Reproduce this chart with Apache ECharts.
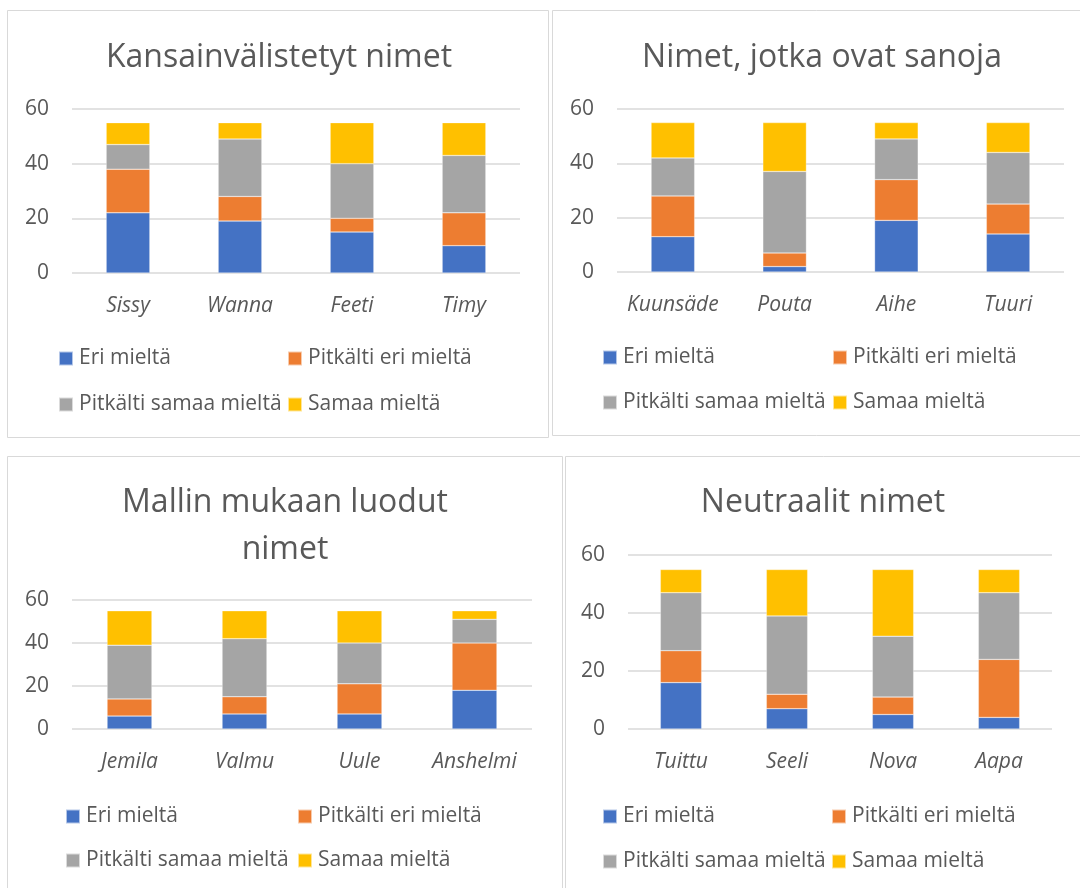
<!DOCTYPE html>
<html>
<head>
<meta charset="utf-8">
<script src="https://cdn.jsdelivr.net/npm/echarts@6/dist/echarts.min.js"></script>
<style>
html,body{margin:0;padding:0;background:#fff;}
#chart{width:1080px;height:888px;}
</style>
</head>
<body>
<div id="chart"></div>
<script>
// ---- Data ----
const seriesNames = ['Eri mieltä', 'Pitkälti eri mieltä', 'Pitkälti samaa mieltä', 'Samaa mieltä'];
const yTicks = [0, 20, 40, 60];

const titles = ['Kansainvälistetyt nimet', 'Nimet, jotka ovat sanoja', 'Mallin mukaan luodut\nnimet', 'Neutraalit nimet'];

const cats1 = ['Sissy', 'Wanna', 'Feeti', 'Timy'];
const eri1 = [22, 19, 15, 10];
const pEri1 = [16, 9, 5, 12];
const pSamaa1 = [9, 21, 20, 21];
const samaa1 = [8, 6, 15, 12];

const cats2 = ['Kuunsäde', 'Pouta', 'Aihe', 'Tuuri'];
const eri2 = [13, 2, 19, 14];
const pEri2 = [15, 5, 15, 11];
const pSamaa2 = [14, 30, 15, 19];
const samaa2 = [13, 18, 6, 11];

const cats3 = ['Jemila', 'Valmu', 'Uule', 'Anshelmi'];
const eri3 = [6, 7, 7, 18];
const pEri3 = [8, 8, 14, 22];
const pSamaa3 = [25, 27, 19, 11];
const samaa3 = [16, 13, 15, 4];

const cats4 = ['Tuittu', 'Seeli', 'Nova', 'Aapa'];
const eri4 = [16, 7, 5, 4];
const pEri4 = [11, 5, 6, 20];
const pSamaa4 = [20, 27, 21, 23];
const samaa4 = [8, 16, 23, 8];

// ---- Styles / layout ----
const FONT = 'Open Sans';
const TXT = '#595959';
const colors = ['#4472C4', '#ED7D31', '#A5A5A5', '#FFC000'];

const panels = [
  { cats: cats1, vals: [eri1, pEri1, pSamaa1, samaa1],
    grid: { left: 72, top: 109, width: 448, height: 164 },
    title: { x: 279, y: 34 }, legend: { x1: 58, x2: 287, y1: 348, y2: 394 },
    border: [7.5, 10.5, 541, 427] },
  { cats: cats2, vals: [eri2, pEri2, pSamaa2, samaa2],
    grid: { left: 617, top: 109, width: 447, height: 163 },
    title: { x: 822, y: 34 }, legend: { x1: 602, x2: 832, y1: 347, y2: 392 },
    border: [552.5, 10.5, 540, 425] },
  { cats: cats3, vals: [eri3, pEri3, pSamaa3, samaa3],
    grid: { left: 72, top: 600, width: 460, height: 129 },
    title: { x: 285, y: 479 }, legend: { x1: 65, x2: 297, y1: 806, y2: 850 },
    border: [7.5, 456.5, 555, 440] },
  { cats: cats4, vals: [eri4, pEri4, pSamaa4, samaa4],
    grid: { left: 628, top: 555, width: 424, height: 174 },
    title: { x: 823, y: 479 }, legend: { x1: 602, x2: 831, y1: 806, y2: 851 },
    border: [565.5, 456.5, 520, 440] }
];

const option = {
  animation: false,
  backgroundColor: '#ffffff',
  textStyle: { fontFamily: FONT },
  title: [], grid: [], xAxis: [], yAxis: [], series: [], legend: [], graphic: []
};

panels.forEach((p, i) => {
  option.graphic.push({
    type: 'rect', silent: true, z: -1,
    shape: { x: p.border[0], y: p.border[1], width: p.border[2], height: p.border[3] },
    style: { fill: 'none', stroke: '#d9d9d9', lineWidth: 1 }
  });
  option.title.push({
    text: titles[i], left: p.title.x, top: p.title.y, textAlign: 'center',
    padding: 0,
    textStyle: { fontFamily: FONT, fontSize: 32, fontWeight: 'normal', color: TXT, lineHeight: 47 }
  });
  option.grid.push(Object.assign({ containLabel: false }, p.grid));
  option.xAxis.push({
    type: 'category', gridIndex: i, data: p.cats,
    axisLine: { show: false }, axisTick: { show: false },
    axisLabel: { fontFamily: FONT, fontSize: 21, fontStyle: 'italic', color: TXT, margin: 23, interval: 0 }
  });
  option.yAxis.push({
    type: 'value', gridIndex: i, min: yTicks[0], max: yTicks[yTicks.length - 1], interval: 20,
    axisLine: { show: false }, axisTick: { show: false },
    splitLine: { lineStyle: { color: '#d9d9d9', width: 1.5 } },
    axisLabel: { fontFamily: FONT, fontSize: 21, color: TXT, margin: 23 }
  });
  seriesNames.forEach((name, s) => {
    option.series.push({
      type: 'bar', name: name, stack: 'p' + i, xAxisIndex: i, yAxisIndex: i,
      data: p.vals[s], barWidth: '39%',
      itemStyle: { color: colors[s], borderColor: 'rgba(255,255,255,0.6)', borderWidth: 0.5 }
    });
  });
  const pos = [[p.legend.x1, p.legend.y1], [p.legend.x2, p.legend.y1], [p.legend.x1, p.legend.y2], [p.legend.x2, p.legend.y2]];
  seriesNames.forEach((name, s) => {
    option.legend.push({
      data: [name], left: pos[s][0], top: pos[s][1], padding: 0,
      icon: 'rect', itemWidth: 14, itemHeight: 14, selectedMode: false,
      textStyle: { fontFamily: FONT, fontSize: 21, color: TXT, padding: [0, 0, 0, 1] }
    });
  });
});

option.color = colors;
const chart = echarts.init(document.getElementById('chart'), null, { renderer: 'canvas' });
chart.setOption(option);
</script>
</body>
</html>
